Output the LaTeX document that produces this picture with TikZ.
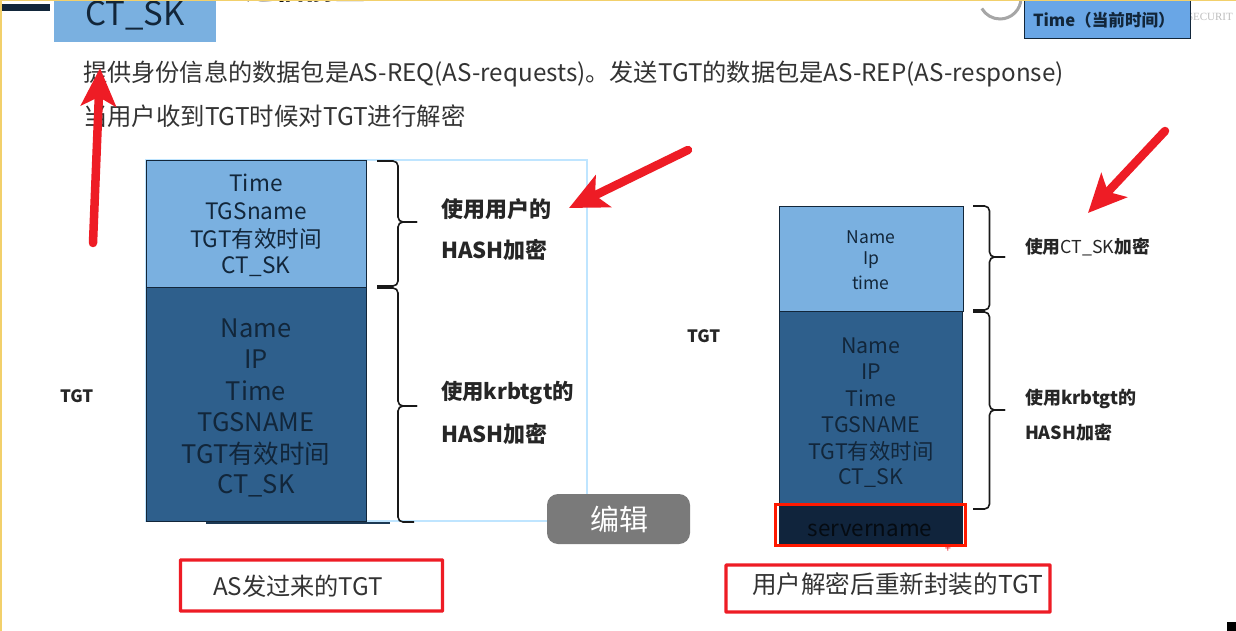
\documentclass[tikz,border=0pt]{standalone}
\usepackage{fontspec}
\setmainfont{Noto Sans CJK SC}
\newfontfamily\wmfont{Liberation Serif}
\usetikzlibrary{arrows.meta}
\definecolor{lightb}{HTML}{7AB0E0}
\definecolor{timeb}{HTML}{69A6E6}
\definecolor{darkb}{HTML}{2E5F8C}
\definecolor{deepb}{HTML}{10243C}
\definecolor{inkb}{HTML}{12263A}
\definecolor{redb}{HTML}{EE1C25}
\definecolor{gold}{HTML}{F2D06B}
\newcommand{\fs}[1]{\fontsize{#1}{#1}\selectfont}
\tikzset{
 x=1pt,y=-1pt,
 every node/.style={inner sep=0pt,outer sep=0pt},
 pl/.style={anchor=west,text=black!80},
 lightbox/.style={fill=lightb,draw=inkb,line width=.8pt,anchor=north west},
 darkbox/.style={fill=darkb,draw=inkb,line width=.8pt,anchor=north west},
 stack/.style={align=center,text=inkb},
 redbox/.style={draw=redb,line width=3.2pt,rounded corners=.5pt},
 redarrow/.style={draw=redb,line width=8.5pt,line cap=round,-{Stealth[length=38pt,width=35pt,inset=9pt]}},
 bracepath/.style={draw=black!90,line width=1.6pt,rounded corners=5pt},
 boldlab/.style={anchor=west,font=\bfseries\fs{22},text=black!85},
}
% start x, stem x, tip x, top, mid, bottom
\newcommand{\sidebrace}[6]{%
  \draw[bracepath] (#1,#4) -- (#2,#4) -- (#2,#5) -- (#3,#5);
  \draw[bracepath] (#3,#5) -- (#2,#5) -- (#2,#6) -- (#1,#6);
}
\begin{document}
\begin{tikzpicture}
\useasboundingbox (0,0) rectangle (1236,631);
\fill[white] (0,0) rectangle (1236,631);
% top fragments
\begin{scope}
\clip (0,0) rectangle (1236,631);
\fill[inkb] (1.5,4) rectangle (50,11);
\node[fill=lightb,minimum width=162pt,minimum height=52pt,anchor=north west,text=inkb,font=\fs{33}] (ctbox) at (54,-10) {\raisebox{-10pt}{CT\_SK}};
\node[anchor=west,font=\bfseries\fs{30},text=black] (title) at (245,-12) {通信前置};
\draw[black!35,line width=3pt] (1021,-2) arc (0:-150:21pt and 21pt);
\node[anchor=west,font=\wmfont\fs{11},text=black!25] (wm) at (1187,17) {SECURIT};
\node[fill=timeb,draw=inkb,line width=1pt,minimum width=166pt,minimum height=55pt,anchor=north west] (timebox) at (1024,-16) {};
\node[anchor=west,font=\bfseries\fs{16.6},text=inkb] (timetxt) at (1033,20) {Time（当前时间）};
\end{scope}
% frame edges
\fill[gold] (0,0) rectangle (1236,1.5);
\fill[gold] (0,0) rectangle (1.5,631);
% intro text
\node[pl,font=\fs{24.2}] (line1) at (83,73.5) {提供身份信息的数据包是AS-REQ(AS-requests)。发送TGT的数据包是AS-REP(AS-response)};
\node[pl,font=\fs{24.4}] (line2) at (83,116) {当用户收到TGT时候对TGT进行解密};
% left stack
\draw[blue!40!cyan!25,line width=1.2pt] (146,160) rectangle (587,521);
\node[lightbox,minimum width=220pt,minimum height=127pt] (la) at (146,160) {};
\node[darkbox,minimum width=220pt,minimum height=234pt] (lb) at (146,287) {};
\node[stack,font=\fs{22.6}] at (256,183) (t1) {Time};
\node[stack,font=\fs{22.6}] at (256,211) (t2) {TGSname};
\node[stack,font=\fs{22.6}] at (256,239) (t3) {TGT有效时间};
\node[stack,font=\fs{22.6}] at (256,267) (t4) {CT\_SK};
\node[stack,font=\fs{25.5}] at (256,328) (t5) {Name};
\node[stack,font=\fs{25.5}] at (256,359) (t6) {IP};
\node[stack,font=\fs{25.5}] at (256,391) (t7) {Time};
\node[stack,font=\fs{25.5}] at (256,422) (t8) {TGSNAME};
\node[stack,font=\fs{25.5}] at (256,454) (t9) {TGT有效时间};
\node[stack,font=\fs{25.5}] at (256,486) (t10) {CT\_SK};
\draw[darkb!60!black,line width=2pt] (206,522.5) -- (390,522.5);
\sidebrace{377}{398}{417}{161}{222}{286}
\draw[bracepath] (377,288) -- (398,288) -- (398,406) -- (417,406);
\draw[bracepath] (417,406) -- (398,406) -- (398,522) -- (414,522);
\node[boldlab] (l1) at (441,209) {使用用户的};
\node[boldlab] (l2) at (441,250) {HASH加密};
\node[boldlab,font=\bfseries\fs{21.4}] (l3) at (441,393) {使用krbtgt的};
\node[boldlab] (l4) at (441,434) {HASH加密};
\node[anchor=west,font=\bfseries\fs{17},text=black!85] (tgtl) at (60,396) {TGT};
% right stack
\node[lightbox,minimum width=184pt,minimum height=105pt] (ra) at (779,206) {};
\node[darkbox,minimum width=183pt,minimum height=193pt] (rb) at (779,311) {};
\node[fill=deepb,minimum width=184pt,minimum height=41pt,anchor=north west] (rc) at (779,504) {};
\node[stack,font=\fs{17.5}] at (871,237) (r1) {Name};
\node[stack,font=\fs{17.5}] at (871,260) (r2) {Ip};
\node[stack,font=\fs{17.5}] at (871,283) (r3) {time};
\node[stack,font=\fs{21.4}] at (871,346) (r4) {Name};
\node[stack,font=\fs{21.4}] at (871,372) (r5) {IP};
\node[stack,font=\fs{21.4}] at (871,398) (r6) {Time};
\node[stack,font=\fs{21.4}] at (871,425) (r7) {TGSNAME};
\node[stack,font=\fs{21.4}] at (871,451) (r8) {TGT有效时间};
\node[stack,font=\fs{21.4}] at (871,478) (r9) {CT\_SK};
\node[font=\fs{22.4},text=black!70!deepb] (r10) at (870,530) {servername};
\draw[draw=red!80!orange,line width=3pt] (775,504) rectangle (965,545);
\node[font=\fs{11},text=redb] (plus) at (948,549) {+};
\sidebrace{973}{989.5}{1005}{206}{257}{310}
\sidebrace{973}{989.5}{1005}{312}{410}{509}
\node[boldlab,font=\bfseries\fs{17.8}] (r11) at (1025,247) {使用{\mdseries CT\_SK}加密};
\node[boldlab,font=\bfseries\fs{18}] (r12) at (1025,399) {使用krbtgt的};
\node[boldlab,font=\bfseries\fs{18}] (r13) at (1025,433) {HASH加密};
\node[anchor=west,font=\bfseries\fs{17},text=black!85] (tgtr) at (687,336) {TGT};
% captions
\node[redbox,minimum width=262pt,minimum height=51pt,anchor=north west] (cap1) at (180.5,560) {};
\node[pl,font=\fs{24.2}] (cap1t) at (213,586) {AS发过来的TGT};
\node[redbox,minimum width=324pt,minimum height=47pt,anchor=north west] (cap2) at (726,565) {};
\node[pl,font=\fs{24.6}] (cap2t) at (752,584) {用户解密后重新封装的TGT};
% edit pill
\fill[black!52,rounded corners=11pt] (547,494) rectangle (690,544);
\node[text=white,font=\fs{29}] (edit) at (619,519) {编辑};
% black corner
\fill[black] (1227,622) rectangle (1236,631);
% red arrows
\coordinate (a1s) at (93,243); \coordinate (a1e) at (100,68);
\coordinate (a2s) at (688,150); \coordinate (a2e) at (569,208);
\coordinate (a3s) at (1165,131); \coordinate (a3e) at (1088,213);
\draw[redarrow] (a1s) -- (a1e);
\draw[redarrow] (a2s) -- (a2e);
\draw[redarrow] (a3s) -- (a3e);
\end{tikzpicture}
\end{document}
